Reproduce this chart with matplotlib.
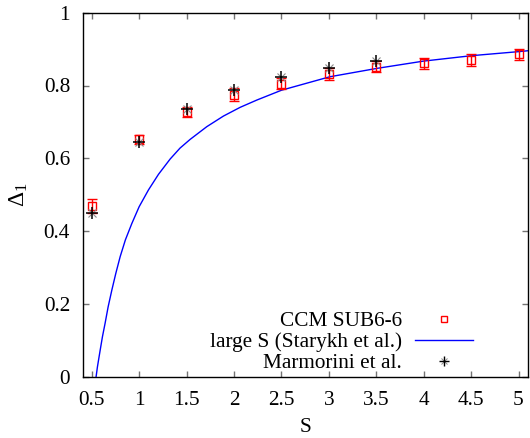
import matplotlib
matplotlib.use("Agg")
import matplotlib.pyplot as plt
from matplotlib.lines import Line2D

plt.rcParams['font.family'] = ['Liberation Serif', 'DejaVu Serif']
plt.rcParams['mathtext.fontset'] = 'custom'
plt.rcParams['mathtext.rm'] = 'Liberation Serif'
plt.rcParams['mathtext.it'] = 'Liberation Serif:italic'

# CCM SUB6-6 data
ccm_s = [0.5, 1.0, 1.5, 2.0, 2.5, 3.0, 3.5, 4.0, 4.5, 5.0]
ccm_d = [0.469, 0.652, 0.728, 0.775, 0.805, 0.832, 0.852, 0.861, 0.870, 0.886]
ccm_err = [0.020, 0.012, 0.014, 0.017, 0.015, 0.016, 0.016, 0.015, 0.016, 0.015]

# Marmorini et al.
mar_s = [0.5, 1.0, 1.5, 2.0, 2.5, 3.0, 3.5]
mar_d = [0.451, 0.644, 0.735, 0.787, 0.823, 0.849, 0.867]

# large S (Starykh et al.) curve
ls_s = [0.545, 0.559, 0.588, 0.612, 0.640, 0.672, 0.711, 0.753, 0.799, 0.854,
        0.922, 0.999, 1.097, 1.203, 1.326, 1.430, 1.537, 1.713, 1.888, 2.064, 2.24,
        2.50, 3.01, 3.506, 3.998, 4.508, 5.0, 5.12]
ls_d = [0.0, 0.027, 0.073, 0.110, 0.147, 0.192, 0.238, 0.284, 0.330, 0.376,
        0.421, 0.467, 0.513, 0.556, 0.598, 0.628, 0.652, 0.687, 0.716, 0.740, 0.760,
        0.787, 0.824, 0.847, 0.867, 0.882, 0.893, 0.896]

xticks = [0.5, 1, 1.5, 2, 2.5, 3, 3.5, 4, 4.5, 5]
xticklabels = ['0.5', '1', '1.5', '2', '2.5', '3', '3.5', '4', '4.5', '5']
yticks = [0, 0.2, 0.4, 0.6, 0.8, 1]
yticklabels = ['0', '0.2', '0.4', '0.6', '0.8', '1']

fs = 15.3
fig = plt.figure(figsize=(5.30, 4.38), dpi=100)
ax = fig.add_axes([83.3/530, (438-376.7)/438, (528-83.3)/530, (376.7-12.7)/438])

ax.errorbar(ccm_s, ccm_d, yerr=ccm_err, fmt='s', mfc='none', mec='red', ms=5.5,
            mew=1.0, ecolor='red', elinewidth=1.0, capsize=3.5, capthick=1.0, zorder=3)
ax.plot(ls_s, ls_d, color='blue', lw=1.0, zorder=2)
ax.plot(mar_s, mar_d, ls='none', marker='x', ms=6, mew=0.8, color='0.55', zorder=4)
ax.plot(mar_s, mar_d, ls='none', marker='+', ms=8, mew=1.1, color='black', zorder=5)

ax.set_xlim(0.41, 5.1)
ax.set_ylim(0, 1)
ax.set_xticks(xticks)
ax.set_xticklabels(xticklabels)
ax.set_yticks(yticks)
ax.set_yticklabels(yticklabels)
ax.tick_params(direction='in', length=4, width=1, color='0.45', top=True, right=True,
               labelsize=fs, pad=10)
ax.tick_params(axis='y', pad=9.5)
for sp in ax.spines.values():
    sp.set_linewidth(1.0)
ax.set_xlabel('S', fontsize=fs, labelpad=6)
ax.set_ylabel(r'$\mathrm{\Delta}_1$', fontsize=17, labelpad=10)

h_ccm = Line2D([], [], ls='none', marker='s', mfc='none', mec='red', ms=4.5, mew=1.0)
h_ls = Line2D([], [], color='blue', lw=1.0)
h_x = Line2D([], [], ls='none', marker='x', ms=5, mew=0.7, color='0.55')
h_p = Line2D([], [], ls='none', marker='+', ms=6.5, mew=1.0, color='black')
leg = ax.legend([h_ccm, h_ls, (h_x, h_p)],
                ['CCM SUB6-6', 'large S (Starykh et al.)', 'Marmorini et al.'],
                loc='lower right', bbox_to_anchor=(0.876, 0.010), frameon=False,
                markerfirst=False, fontsize=fs, handlelength=2.7, handletextpad=0.65,
                labelspacing=0.05, borderpad=0, borderaxespad=0)

fig.savefig('out.png', dpi=100)
